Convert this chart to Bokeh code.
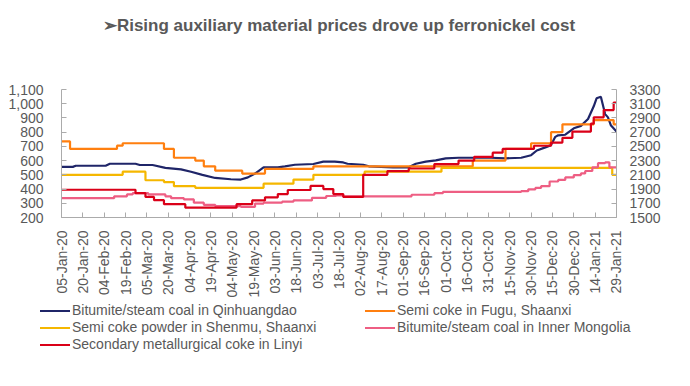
import pandas as pd
from bokeh.plotting import figure
from bokeh.layouts import column
from bokeh.models import (Range1d, LinearAxis, FixedTicker, NumeralTickFormatter,
                          DatetimeTickFormatter, Div)
from bokeh.embed import file_html
from bokeh.resources import INLINE

# ---------------- data ----------------
title_text = "\u27a2Rising auxiliary material prices drove up ferronickel cost"
x_labels = ["05-Jan-20", "20-Jan-20", "04-Feb-20", "19-Feb-20", "05-Mar-20", "20-Mar-20",
            "04-Apr-20", "19-Apr-20", "04-May-20", "19-May-20", "03-Jun-20", "18-Jun-20",
            "03-Jul-20", "18-Jul-20", "02-Aug-20", "17-Aug-20", "01-Sep-20", "16-Sep-20",
            "01-Oct-20", "16-Oct-20", "31-Oct-20", "15-Nov-20", "30-Nov-20", "15-Dec-20",
            "30-Dec-20", "14-Jan-21", "29-Jan-21"]
left_ticks = [200, 300, 400, 500, 600, 700, 800, 900, 1000, 1100]
right_ticks = [1500, 1700, 1900, 2100, 2300, 2500, 2700, 2900, 3100, 3300]

# Bitumite/steam coal in Qinhuangdao (left axis)
qhd_dates = ["2020-01-05", "2020-01-13", "2020-01-15", "2020-02-05", "2020-02-08", "2020-02-26",
             "2020-02-29", "2020-03-09", "2020-03-18", "2020-03-29", "2020-04-05", "2020-04-13",
             "2020-04-22", "2020-05-03", "2020-05-10", "2020-05-15", "2020-05-20", "2020-05-26",
             "2020-06-05", "2020-06-10", "2020-06-17", "2020-06-30", "2020-07-07", "2020-07-15",
             "2020-07-21", "2020-07-24", "2020-08-04", "2020-08-08", "2020-08-25", "2020-09-05",
             "2020-09-10", "2020-09-17", "2020-09-24", "2020-10-01", "2020-10-10", "2020-11-02",
             "2020-11-12", "2020-11-23", "2020-11-30", "2020-12-04", "2020-12-10", "2020-12-14",
             "2020-12-17", "2020-12-19", "2020-12-24", "2020-12-30", "2021-01-04", "2021-01-09",
             "2021-01-13", "2021-01-15", "2021-01-18", "2021-01-21", "2021-01-23", "2021-01-25",
             "2021-01-29"]
qhd_vals = [556, 556, 564, 564, 578, 578, 569, 569, 549, 538,
            522, 500, 478, 469, 467, 482, 509, 553, 553, 560,
            571, 576, 593, 593, 587, 578, 571, 560, 553, 553,
            578, 593, 602, 616, 620, 620, 616, 620, 638, 671,
            693, 709, 767, 778, 782, 827, 844, 893, 982, 1038,
            1049, 927, 904, 849, 804]

# Semi coke in Fugu, Shaanxi (left axis)
fugu_dates = ["2020-01-05", "2020-01-11", "2020-02-13", "2020-02-17", "2020-03-17", "2020-03-24",
              "2020-04-08", "2020-04-14", "2020-04-22", "2020-05-11", "2020-05-27", "2020-06-30",
              "2020-10-20", "2020-11-12", "2020-11-30", "2020-12-14", "2020-12-22", "2021-01-13",
              "2021-01-27", "2021-01-29"]
fugu_vals = [735, 682, 705, 722, 682, 620, 600, 560, 529, 509, 542, 560,
             600, 682, 722, 800, 855, 885, 855, 855]

# Semi coke powder in Shenmu, Shaanxi (left axis)
shenmu_dates = ["2020-01-05", "2020-02-17", "2020-03-04", "2020-03-17", "2020-03-24", "2020-04-08",
                "2020-05-26", "2020-06-16", "2020-06-30", "2020-08-05", "2020-09-28", "2021-01-26",
                "2021-01-29"]
shenmu_vals = [500, 522, 462, 449, 420, 409, 438, 467, 500, 522, 549, 500, 500]

# Bitumite/steam coal in Inner Mongolia (left axis)
im_dates = ["2020-01-05", "2020-02-11", "2020-02-20", "2020-02-24", "2020-03-06", "2020-03-18",
            "2020-03-22", "2020-03-31", "2020-04-07", "2020-04-14", "2020-04-22", "2020-05-10",
            "2020-05-20", "2020-05-26", "2020-06-08", "2020-06-16", "2020-06-29", "2020-07-09",
            "2020-07-16", "2020-07-21", "2020-09-07", "2020-09-23", "2020-09-29", "2020-11-23",
            "2020-11-28", "2020-12-03", "2020-12-07", "2020-12-13", "2020-12-19", "2020-12-24",
            "2020-12-30", "2021-01-04", "2021-01-07", "2021-01-12", "2021-01-16", "2021-01-21",
            "2021-01-24", "2021-01-29"]
im_vals = [336, 349, 362, 371, 362, 349, 336, 327, 304, 289, 280, 275,
           298, 304, 311, 320, 338, 351, 356, 349, 360, 371, 380, 385,
           398, 408, 420, 453, 464, 482, 498, 510, 527, 553, 582, 587,
           553, 553]

# Secondary metallurgical coke in Linyi (right axis)
linyi_dates = ["2020-01-05", "2020-02-26", "2020-03-04", "2020-03-10", "2020-03-17", "2020-04-01",
               "2020-05-07", "2020-05-18", "2020-05-27", "2020-06-05", "2020-06-12", "2020-06-28",
               "2020-07-07", "2020-07-14", "2020-07-21", "2020-08-04", "2020-08-21", "2020-09-05",
               "2020-09-23", "2020-10-10", "2020-10-21", "2020-11-03", "2020-11-10", "2020-12-02",
               "2020-12-14", "2020-12-22", "2020-12-29", "2021-01-11", "2021-01-13", "2021-01-20",
               "2021-01-27", "2021-01-29"]
linyi_vals = [1890, 1842, 1789, 1744, 1687, 1638, 1687, 1740, 1784, 1829, 1887, 1944,
              1900, 1829, 1789, 2100, 2153, 2189, 2251, 2300, 2353, 2411, 2464, 2509,
              2553, 2620, 2708, 2820, 2909, 3011, 3117, 3117]

names = ["Bitumite/steam coal in Qinhuangdao", "Semi coke in Fugu, Shaanxi",
         "Semi coke powder in Shenmu, Shaanxi", "Bitumite/steam coal in Inner Mongolia",
         "Secondary metallurgical coke in Linyi"]
colors = ["#1F2568", "#FF7F0F", "#F5B700", "#EE5E83", "#DA0018"]

GRAY = "#595959"
FONT = "Liberation Sans"
LW = 2.2

# ---------------- title strip ----------------
title_html = (f'<div style="position:relative;width:690px;height:60px;">'
              f'<div style="position:absolute;left:0px;top:16px;width:678px;height:20px;'
              f"line-height:20px;text-align:center;white-space:nowrap;font-family:'{FONT}';"
              f'font-size:17px;font-weight:bold;color:{GRAY};">{title_text}</div></div>')
title_div = Div(text=title_html, width=690, height=60, margin=(0, 0, 0, 0))

# ---------------- main chart ----------------
tick_dates = pd.to_datetime(x_labels, format="%d-%b-%y")
tick_ms = [t.timestamp() * 1000 for t in tick_dates]

p = figure(width=690, height=240, x_axis_type="datetime", output_backend="svg",
           toolbar_location=None,
           x_range=Range1d(tick_dates[0], tick_dates[-1]),
           y_range=Range1d(left_ticks[0], left_ticks[-1]),
           min_border_left=61, min_border_right=74, min_border_top=29, min_border_bottom=76)
p.extra_y_ranges = {"right": Range1d(right_ticks[0], right_ticks[-1])}

p.xgrid.visible = False
p.ygrid.visible = False
p.outline_line_color = None

raxis = LinearAxis(y_range_name="right")
p.add_layout(raxis, "right")

fmt = "%d-%b-%y"
xaxis = p.xaxis[0]
xaxis.ticker = FixedTicker(ticks=tick_ms)
xaxis.formatter = DatetimeTickFormatter(milliseconds=fmt, seconds=fmt, minsec=fmt, minutes=fmt,
                                        hourmin=fmt, hours=fmt, days=fmt, months=fmt, years=fmt)
xaxis.major_label_orientation = 1.5707963
xaxis.major_label_standoff = 13

yaxis = p.yaxis[0]
yaxis.ticker = FixedTicker(ticks=left_ticks)
yaxis.formatter = NumeralTickFormatter(format="0,0")
yaxis.major_label_standoff = 18

raxis.ticker = FixedTicker(ticks=right_ticks)
raxis.formatter = NumeralTickFormatter(format="0")
raxis.major_label_standoff = 13

for ax in [xaxis, yaxis, raxis]:
    ax.axis_line_color = "#ABABAB"
    ax.major_tick_line_color = "#ABABAB"
    ax.major_tick_in = 5
    ax.major_tick_out = 0
    ax.minor_tick_line_color = None
    ax.major_label_text_font = FONT
    ax.major_label_text_font_size = "14px"
    ax.major_label_text_color = GRAY

def d(lst):
    return pd.to_datetime(lst)

p.line(d(qhd_dates), qhd_vals, color=colors[0], line_width=LW)
p.step(d(fugu_dates), fugu_vals, mode="after", color=colors[1], line_width=LW)
p.step(d(shenmu_dates), shenmu_vals, mode="after", color=colors[2], line_width=LW)
p.step(d(im_dates), im_vals, mode="after", color=colors[3], line_width=LW)
p.step(d(linyi_dates), linyi_vals, mode="after", color=colors[4], line_width=LW,
       y_range_name="right")

# ---------------- legend strip (two columns) ----------------
legend_slots = [(0, 40, 1), (2, 40, 18), (4, 40, 35), (1, 365, 1), (3, 365, 18)]
parts = []
for idx, left, top in legend_slots:
    parts.append(
        f'<div style="position:absolute;left:{left}px;top:{top}px;height:18px;'
        f'line-height:18px;white-space:nowrap;">'
        f'<span style="display:inline-block;width:30px;height:2px;background:{colors[idx]};'
        f'vertical-align:middle;margin-right:2px;"></span>{names[idx]}</div>')
legend_html = (f'<div style="position:relative;width:690px;height:86px;'
               f"font-family:'{FONT}';font-size:14px;color:{GRAY};\">" + "".join(parts) + "</div>")
legend_div = Div(text=legend_html, width=690, height=86, margin=(0, 0, 0, 0))

layout = column(title_div, p, legend_div, spacing=0)
open("out.html", "w").write(file_html(layout, INLINE))
